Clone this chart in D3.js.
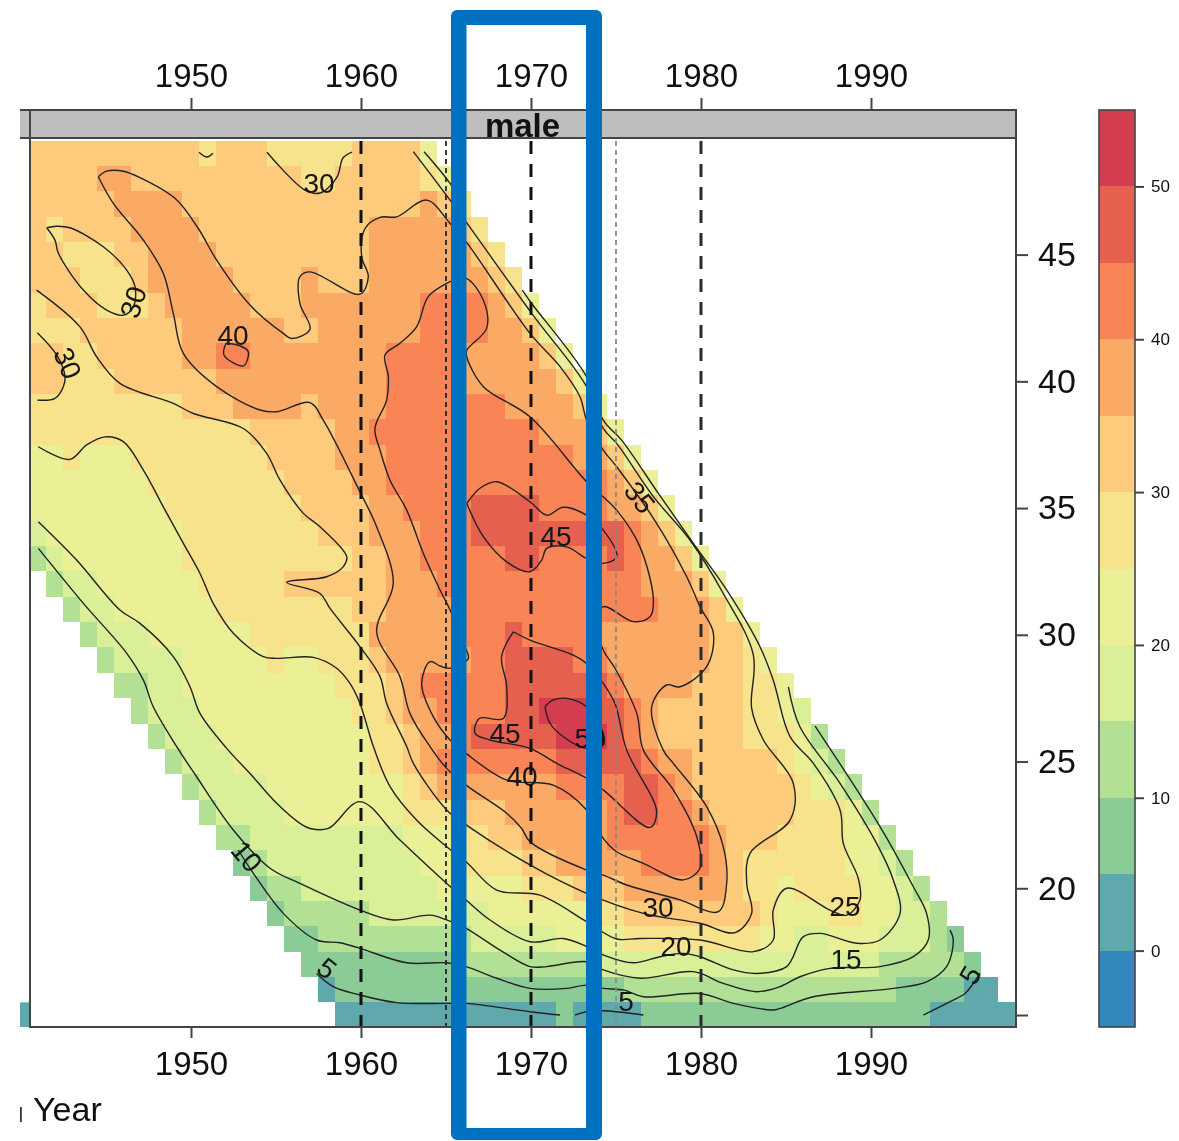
<!DOCTYPE html>
<html><head><meta charset="utf-8">
<script src="https://cdn.jsdelivr.net/npm/d3@7/dist/d3.min.js"></script>
<style>html,body{margin:0;padding:0;background:#fff}svg{display:block;filter:blur(0.55px)}text{font-family:"Liberation Sans",Arial,sans-serif}</style>
</head><body><svg id="c" width="1179" height="1141"></svg>
<script>
// ---------- colour levels ----------
const levelBreaks=[-5,0,5,10,15,20,25,30,35,40,45,50,55];
const levelColors=["#3288BD","#5FA8AC","#8ACB96","#B2E095","#D9EF98","#EBEF96","#F6E38C","#FDCB7B","#FBAA66","#F98456","#E5604F","#D43D4F"];
const colorTicks=[0,10,20,30,40,50];
const yearTicks=[1950,1960,1970,1980,1990];
const ageTicks=[15,20,25,30,35,40,45];
const dashedYears=[1960,1970,1980];
const dottedYears=[1965,1975];
// ---------- cell levels: for each age, [level index, last birth year of the run] ----------
const cellAges=[49,48,47,46,45,44,43,42,41,40,39,38,37,36,35,34,33,32,31,30,29,28,27,26,25,24,23,22,21,20,19,18,17,16,15];
const cellRuns=[
[[7,1950],[6,1951],[7,1954],[6,1959],[7,1963],[5,1964]],
[[7,1944],[8,1946],[7,1956],[6,1958],[7,1963],[6,1964],[5,1965]],
[[7,1945],[8,1949],[7,1963],[8,1964],[7,1965],[6,1966]],
[[7,1941],[6,1942],[7,1946],[8,1950],[7,1960],[8,1965],[7,1966],[6,1967]],
[[7,1942],[6,1945],[7,1947],[8,1951],[7,1960],[8,1966],[7,1967],[6,1968]],
[[7,1943],[6,1946],[7,1947],[8,1952],[7,1956],[8,1957],[7,1960],[8,1967],[7,1968],[6,1969]],
[[6,1941],[7,1944],[6,1947],[7,1948],[8,1953],[7,1956],[8,1963],[9,1967],[8,1968],[7,1969],[5,1970]],
[[6,1943],[7,1949],[8,1955],[7,1957],[8,1963],[9,1967],[8,1969],[7,1970],[5,1971]],
[[7,1942],[6,1944],[7,1949],[8,1951],[9,1953],[8,1961],[9,1965],[8,1970],[7,1971],[5,1972]],
[[7,1942],[6,1945],[7,1951],[8,1961],[9,1965],[8,1971],[7,1972],[5,1973]],
[[6,1949],[7,1952],[8,1956],[7,1957],[8,1961],[9,1968],[8,1972],[7,1973],[5,1974]],
[[6,1953],[7,1958],[8,1960],[9,1970],[8,1973],[7,1974],[5,1975]],
[[5,1942],[6,1943],[5,1946],[6,1954],[7,1958],[8,1961],[9,1972],[8,1974],[7,1975],[5,1976]],
[[5,1947],[6,1955],[7,1959],[8,1961],[9,1974],[8,1975],[7,1976],[5,1977]],
[[5,1948],[6,1956],[7,1960],[8,1962],[9,1966],[10,1970],[9,1974],[8,1976],[7,1977],[5,1978]],
[[4,1941],[5,1949],[6,1957],[7,1960],[8,1963],[9,1966],[10,1975],[9,1976],[8,1977],[7,1978],[5,1979]],
[[3,1941],[4,1942],[5,1949],[6,1959],[7,1961],[8,1963],[9,1968],[10,1970],[9,1974],[10,1975],[9,1976],[8,1978],[7,1979],[5,1980]],
[[3,1942],[4,1944],[5,1950],[6,1955],[7,1961],[8,1964],[9,1976],[8,1979],[7,1980],[5,1981]],
[[3,1943],[4,1945],[5,1951],[6,1959],[7,1961],[8,1965],[9,1977],[8,1980],[7,1981],[5,1982]],
[[3,1944],[4,1947],[5,1953],[6,1960],[8,1965],[9,1968],[10,1969],[9,1973],[8,1980],[7,1982],[5,1983]],
[[3,1945],[4,1949],[5,1954],[6,1955],[5,1957],[6,1960],[7,1961],[8,1966],[9,1968],[10,1972],[9,1974],[8,1980],[7,1982],[6,1983],[5,1984]],
[[3,1947],[4,1949],[5,1958],[6,1961],[7,1962],[8,1963],[9,1968],[10,1974],[9,1975],[8,1979],[7,1982],[6,1984],[5,1985]],
[[3,1947],[4,1950],[5,1959],[6,1961],[7,1962],[8,1964],[9,1968],[10,1970],[11,1973],[10,1975],[9,1976],[8,1977],[7,1982],[6,1984],[5,1985],[4,1986]],
[[3,1948],[4,1951],[5,1960],[6,1962],[7,1963],[8,1965],[9,1966],[10,1971],[11,1974],[10,1975],[9,1976],[8,1977],[7,1982],[6,1985],[5,1986],[3,1987]],
[[3,1949],[4,1952],[5,1960],[6,1962],[7,1963],[8,1964],[9,1971],[10,1976],[9,1977],[8,1979],[7,1984],[6,1985],[5,1986],[4,1987],[3,1988]],
[[3,1950],[4,1954],[5,1962],[6,1963],[7,1964],[8,1971],[9,1975],[10,1977],[9,1978],[8,1979],[7,1985],[6,1986],[5,1987],[4,1988],[3,1989]],
[[3,1951],[4,1955],[5,1962],[6,1965],[7,1968],[8,1974],[9,1975],[10,1977],[9,1979],[8,1980],[7,1985],[6,1988],[5,1989],[3,1990]],
[[3,1953],[4,1962],[5,1965],[6,1967],[7,1969],[8,1974],[9,1980],[8,1981],[7,1984],[6,1988],[5,1990],[3,1991]],
[[2,1953],[3,1954],[4,1963],[5,1965],[6,1969],[7,1971],[8,1976],[9,1980],[8,1981],[7,1982],[6,1988],[5,1990],[4,1991],[3,1992]],
[[2,1954],[3,1956],[4,1964],[5,1969],[6,1972],[7,1975],[8,1981],[7,1982],[6,1984],[5,1985],[6,1989],[5,1991],[4,1992],[3,1993]],
[[2,1955],[3,1960],[4,1967],[5,1973],[6,1975],[7,1983],[6,1984],[5,1987],[6,1989],[5,1991],[4,1993],[3,1994]],
[[2,1957],[3,1966],[4,1971],[5,1975],[6,1983],[5,1985],[4,1987],[5,1990],[4,1993],[3,1994],[2,1995]],
[[2,1965],[3,1973],[4,1990],[3,1995],[2,1996]],
[[1,1958],[2,1975],[3,1991],[2,1995],[1,1997]],
[[1,1971],[2,1972],[1,1976],[2,1993],[1,1998]]
];
// first birth year present at each age
const firstYears=[1941,1941,1941,1941,1941,1941,1941,1941,1941,1941,1941,1941,1941,1941,1941,1941,1941,1942,1943,1944,1945,1946,1947,1948,1949,1950,1951,1952,1953,1954,1955,1956,1957,1958,1959];
// ---------- contour lines [birth year, age] ----------
const contourTopV=[[1950.47,49.04],[1950.94,48.85],[1951.29,49.0]];
const contourTop30=[[1954.47,49.04],[1956.71,47.54],[1957.59,47.43],[1958.59,48.06],[1958.94,48.81],[1959.47,49.04]];
const contourIsland30=[[1941.51,46.06],[1942.10,46.12],[1942.88,46.06],[1944.84,45.31],[1946.22,44.39],[1946.71,43.73],[1946.61,42.94],[1946.02,42.61],[1945.04,42.81],[1943.67,43.60],[1942.20,45.05],[1942.0,45.57],[1941.51,46.06]];
const contourLeft30=[[1940.96,41.92],[1942.10,41.04],[1942.59,40.18],[1942.49,39.79],[1942.0,39.33],[1940.96,39.26]];
const contourBox40=[[1952.06,41.50],[1952.88,41.40],[1953.37,41.17],[1953.08,40.61],[1951.94,41.04],[1952.06,41.50]];
const contour35=[[1944.55,48.07],[1945.04,48.29],[1946.02,48.29],[1947.0,48.04],[1949.06,47.22],[1950.43,46.03],[1951.51,44.78],[1953.47,43.01],[1955.43,41.89],[1955.92,41.69],[1957.0,42.05],[1956.41,43.07],[1956.41,44.13],[1957.0,44.32],[1959.94,43.44],[1960.43,44.13],[1960.04,44.91],[1960.24,46.03],[1961.12,46.47],[1962.10,46.49],[1963.86,47.15],[1965.24,46.23],[1966.18,45.51],[1969.94,41.89],[1971.71,40.58],[1972.88,39.39],[1973.27,38.47],[1974.25,37.29],[1975.04,36.63],[1977.39,34.40],[1979.16,32.29],[1979.94,31.11],[1980.73,30.06],[1980.33,28.74],[1978.76,27.95],[1977.98,28.02],[1977.10,27.16],[1977.78,25.45],[1978.37,24.93],[1980.33,23.22],[1981.31,21.64],[1981.51,20.19],[1981.02,19.08],[1978.76,19.54],[1975.63,20.13],[1974.25,20.52],[1973.27,20.72],[1969.94,21.84],[1969.45,22.36],[1968.57,22.96],[1966.18,24.07],[1965.04,24.73],[1964.06,25.59],[1962.88,26.90],[1962.29,28.35],[1960.92,30.12],[1961.90,32.03],[1960.92,34.26],[1959.94,35.64],[1957.78,38.47],[1957.0,39.16],[1955.04,38.80],[1954.06,38.87],[1951.51,39.79],[1949.55,41.10],[1948.96,42.68],[1948.37,44.26],[1947.20,45.57],[1945.43,47.02],[1944.55,48.07]];
const contour40=[[1965.24,43.93],[1966.18,44.06],[1967.20,43.20],[1967.39,42.09],[1966.22,41.23],[1966.22,40.97],[1967.20,39.79],[1969.94,38.60],[1973.27,36.04],[1975.04,34.92],[1976.41,33.47],[1977.20,31.37],[1977.0,30.71],[1976.02,30.52],[1974.25,31.11],[1973.86,30.32],[1974.25,29.40],[1974.94,28.68],[1976.22,26.90],[1976.61,25.45],[1978.37,23.88],[1979.75,22.03],[1979.94,20.79],[1978.96,20.33],[1976.61,20.98],[1975.04,21.44],[1974.25,21.97],[1973.27,23.09],[1971.31,24.07],[1968.57,24.27],[1966.18,25.32],[1965.24,25.85],[1964.25,26.77],[1963.57,28.08],[1964.06,28.94],[1964.65,28.77],[1965.24,28.68],[1966.31,29.07],[1966.12,29.53],[1965.24,30.98],[1964.65,31.77],[1963.67,33.21],[1962.69,34.92],[1961.71,36.10],[1961.12,37.29],[1960.82,38.14],[1961.51,39.26],[1961.61,40.18],[1961.41,41.04],[1962.29,41.50],[1963.27,42.15],[1963.96,43.34],[1965.24,43.93]];
const contour45Upper=[[1966.22,35.18],[1967.0,35.78],[1967.98,36.04],[1969.94,35.25],[1970.92,34.72],[1971.90,35.03],[1973.27,34.72],[1974.25,34.13],[1975.04,33.08],[1974.25,32.82],[1973.27,33.01],[1972.10,33.47],[1970.92,33.41],[1970.63,32.95],[1969.94,32.49],[1968.57,32.88],[1967.20,33.87],[1966.22,35.18]];
const contour45Lower=[[1968.96,30.12],[1969.94,29.79],[1972.49,29.20],[1973.27,28.87],[1974.25,28.08],[1974.94,27.29],[1975.63,25.45],[1977.39,23.02],[1977.0,22.40],[1974.25,23.88],[1973.27,24.34],[1971.51,24.93],[1969.94,25.52],[1967.59,25.85],[1966.71,26.11],[1966.96,26.70],[1968.37,26.70],[1968.57,27.95],[1968.27,29.14],[1968.96,30.12]];
const contour50=[[1970.82,27.16],[1971.31,27.43],[1972.10,27.49],[1973.27,27.16],[1974.25,26.11],[1974.25,25.65],[1973.27,25.52],[1971.90,25.98],[1971.12,26.51],[1970.82,27.16]];
const contour30=[[1940.92,43.60],[1943.47,42.15],[1944.45,40.97],[1945.82,39.92],[1948.96,39.13],[1950.14,38.73],[1953.08,38.14],[1954.45,37.16],[1955.24,36.10],[1956.61,34.79],[1957.59,34.26],[1959.16,33.08],[1958.96,32.69],[1957.98,32.29],[1955.63,32.07],[1957.59,31.63],[1958.18,31.04],[1959.94,29.53],[1961.12,28.35],[1961.51,27.29],[1962.69,25.59],[1963.08,24.93],[1965.04,23.09],[1966.18,22.50],[1969.94,20.92],[1973.27,19.80],[1976.61,19.01],[1979.94,18.62],[1982.0,18.25],[1982.98,19.01],[1982.69,20.19],[1982.88,21.38],[1985.24,22.69],[1985.43,24.14],[1983.67,25.85],[1982.98,27.10],[1983.08,29.20],[1981.31,31.63],[1979.35,33.74],[1977.20,35.45],[1975.04,37.55],[1974.25,38.14],[1973.27,39.79],[1970.04,42.68],[1966.18,46.29],[1965.24,47.15],[1963.08,49.06]];
const contourShort=[[1963.71,49.06],[1965.24,47.81],[1965.82,47.15]];
const contour25=[[1941.02,37.42],[1942.88,36.92],[1943.86,37.49],[1944.94,37.81],[1946.02,37.62],[1947.20,36.50],[1948.37,35.05],[1949.55,33.61],[1950.53,32.42],[1951.31,31.24],[1952.49,30.06],[1954.25,29.14],[1955.04,29.07],[1957.20,29.11],[1958.57,28.68],[1959.35,28.08],[1959.94,27.29],[1960.73,25.59],[1961.71,24.01],[1963.27,22.69],[1965.04,21.64],[1966.18,21.05],[1967.98,19.93],[1970.53,19.73],[1973.27,18.68],[1975.04,18.0],[1976.41,18.02],[1979.94,17.96],[1983.08,17.50],[1984.25,17.96],[1984.25,19.14],[1985.04,20.0],[1987.59,19.14],[1988.57,18.94],[1989.35,19.54],[1989.25,20.39],[1988.37,21.77],[1988.18,23.09],[1986.61,24.93],[1985.24,25.98],[1984.25,28.21],[1983.47,29.53],[1981.51,31.77],[1979.55,33.61],[1977.49,35.58],[1975.33,37.68],[1974.25,38.47],[1973.27,40.18],[1970.04,43.07],[1969.49,43.60]];
const contour20=[[1941.02,34.46],[1943.27,32.95],[1945.82,30.98],[1947.0,30.45],[1948.96,29.14],[1949.94,27.95],[1950.53,26.90],[1952.10,25.52],[1953.47,24.53],[1955.04,23.35],[1956.41,22.56],[1957.0,22.36],[1958.08,22.36],[1959.94,23.42],[1962.29,21.90],[1965.04,20.19],[1966.18,19.54],[1967.59,18.75],[1969.94,17.89],[1971.90,18.02],[1973.27,17.70],[1974.25,17.37],[1976.02,17.06],[1977.59,17.30],[1978.96,17.43],[1979.94,17.30],[1981.90,16.78],[1983.27,16.64],[1985.04,16.91],[1986.02,18.09],[1987.0,18.22],[1989.16,17.83],[1990.53,17.96],[1991.71,19.01],[1991.31,20.33],[1990.33,21.77],[1988.18,24.14],[1985.82,26.37],[1985.14,27.95]];
const contour15=[[1941.02,33.41],[1943.67,31.24],[1946.22,29.27],[1947.20,28.21],[1947.78,27.16],[1949.16,25.59],[1950.33,24.40],[1952.49,22.30],[1954.65,20.79],[1956.41,20.19],[1959.94,19.14],[1961.90,18.75],[1964.06,18.94],[1965.04,18.75],[1966.18,18.42],[1968.18,17.56],[1969.94,16.91],[1970.92,16.91],[1973.27,17.10],[1974.25,16.78],[1976.41,16.45],[1979.55,16.71],[1981.31,16.25],[1983.27,15.92],[1984.65,16.12],[1985.82,16.51],[1987.59,16.84],[1990.53,16.91],[1992.49,17.30],[1993.37,17.96],[1993.27,19.01],[1992.49,20.06],[1990.53,22.43],[1986.71,26.40]];
const contour10=[[1952.78,21.51],[1953.67,20.59],[1955.43,19.01],[1957.39,17.96],[1958.76,17.85],[1959.94,17.63],[1962.69,17.06],[1965.04,17.06],[1966.18,16.91],[1967.98,16.45],[1969.94,16.05],[1972.10,16.05],[1973.27,16.18],[1974.25,16.05],[1975.43,15.99],[1976.61,15.72],[1979.94,15.85],[1981.90,15.46],[1984.25,15.20],[1984.65,15.26],[1986.61,15.72],[1991.31,16.05],[1993.27,16.31],[1994.45,16.91],[1994.84,17.96],[1994.65,18.35]];
const contour5a=[[1957.39,16.64],[1958.37,16.12],[1959.94,15.79],[1962.10,15.49],[1965.04,15.46],[1966.18,15.46],[1969.94,15.13],[1971.71,15.0]];
const contour5b=[[1972.59,15.0],[1973.27,15.13],[1974.25,15.17],[1976.61,15.0]];
const contour5c=[[1993.08,15.0],[1994.45,15.46],[1995.53,15.85],[1996.02,16.25],[1996.41,16.64]];
const contourLines=[contourTopV,contourTop30,contourIsland30,contourLeft30,contourBox40,contour35,contour40,contour45Upper,contour45Lower,contour50,contour30,contourShort,contour25,contour20,contour15,contour10,contour5a,contour5b,contour5c];
// contour labels: text, birth year, age, rotation
const labelTexts=["30","30","30","40","45","45","50","40","35","30","20","25","15","5","5","10","5"];
const labelYears=[1957.53,1946.59,1942.76,1952.47,1971.47,1968.47,1973.47,1969.47,1976.41,1977.47,1978.53,1988.47,1988.53,1975.59,1958,1953.29,1995.82];
const labelAges=[47.82,43.13,40.72,41.82,33.9,26.12,25.93,24.43,35.43,19.26,17.72,19.3,17.21,15.55,16.85,21.27,16.58];
const labelAngles=[0,-72,68,0,0,0,0,0,52,0,0,0,0,0,38,50,-60];

// ---------- scales ----------
const x=d3.scaleLinear().domain([1940.53,1998.53]).range([30,1016]);
const y=d3.scaleLinear().domain([14.527,49.6]).range([1027,138]);
const colorScale=d3.scaleThreshold().domain(levelBreaks.slice(1,-1)).range(levelColors);
const legendY=d3.scaleLinear().domain([-5,55]).range([1027,110]);
const svg=d3.select("#c");
const ink="#444";

// cells
const cells=[];
cellAges.forEach((age,i)=>{let start=firstYears[i];
  cellRuns[i].forEach(([lvl,last])=>{for(let yr=start;yr<=last;yr++)cells.push({age,yr,lvl});start=last+1;});});
svg.append("g").attr("shape-rendering","crispEdges").selectAll("rect").data(cells).join("rect")
  .attr("x",d=>x(d.yr-.5)).attr("width",d=>x(d.yr+.5)-x(d.yr-.5))
  .attr("y",d=>y(d.age+.5)).attr("height",d=>y(d.age-.5)-y(d.age+.5))
  .attr("fill",d=>colorScale(levelBreaks[d.lvl]));

// neighbouring panel remnants, left of the frame
svg.append("rect").attr("x",20).attr("width",10).attr("y",y(15.5)).attr("height",y(14.527)-y(15.5)).attr("fill",levelColors[1]);

// contours
const line=d3.line().x(d=>x(d[0])).y(d=>y(d[1])).curve(d3.curveCatmullRom.alpha(.5));
svg.append("g").selectAll("path").data(contourLines).join("path").attr("d",line)
  .attr("fill","none").attr("stroke","#222").attr("stroke-width",1.4);

// contour labels
svg.append("g").selectAll("text").data(labelTexts).join("text").text(d=>d)
  .attr("transform",(d,i)=>`translate(${x(labelYears[i])},${y(labelAges[i])}) rotate(${labelAngles[i]})`)
  .attr("text-anchor","middle").attr("dy","0.36em").attr("font-size",28).attr("fill","#161616");

// reference lines
svg.append("g").selectAll("line").data(dashedYears).join("line")
  .attr("x1",d=>x(d)).attr("x2",d=>x(d)).attr("y1",141).attr("y2",1027)
  .attr("stroke",d=>d===1980?"#2b2b2b":"#111").attr("stroke-width",3).attr("stroke-dasharray","13 10");
svg.append("g").selectAll("line").data(dottedYears).join("line")
  .attr("x1",d=>x(d)).attr("x2",d=>x(d)).attr("y1",141).attr("y2",1027)
  .attr("stroke",d=>d===1965?"#222":"#8a8a8a").attr("stroke-width",1.8).attr("stroke-dasharray","5 4");

// strip
svg.append("rect").attr("x",20).attr("y",110).attr("width",996).attr("height",28).attr("fill","#BEBEBE");
svg.append("line").attr("x1",20).attr("x2",1016).attr("y1",110).attr("y2",110).attr("stroke",ink).attr("stroke-width",2);
svg.append("line").attr("x1",20).attr("x2",1016).attr("y1",138).attr("y2",138).attr("stroke",ink).attr("stroke-width",2);
svg.append("text").text("male").attr("x",522.5).attr("y",137).attr("text-anchor","middle").attr("font-size",33).attr("font-weight","bold").attr("fill","#111");
// frame
svg.append("rect").attr("x",30).attr("y",110).attr("width",986).attr("height",917).attr("fill","none").attr("stroke",ink).attr("stroke-width",2);

// axes
function styleAxis(g,size){g.select(".domain").remove();g.selectAll(".tick line").attr("stroke",ink).attr("stroke-width",2);
  g.selectAll(".tick text").attr("font-size",size).attr("font-family",'"Liberation Sans",Arial,sans-serif').attr("fill","#111");}
svg.append("g").attr("transform","translate(0,110)").call(d3.axisTop(x).tickValues(yearTicks).tickFormat(d3.format("d")).tickSize(12).tickPadding(11)).call(styleAxis,33);
svg.append("g").attr("transform","translate(0,1027)").call(d3.axisBottom(x).tickValues(yearTicks).tickFormat(d3.format("d")).tickSize(11).tickPadding(14)).call(styleAxis,33);
svg.append("g").attr("transform","translate(1016,0)").call(d3.axisRight(y).tickValues(ageTicks.slice(1)).tickFormat(d3.format("d")).tickSize(12).tickPadding(10)).call(styleAxis,34);
svg.append("g").attr("transform","translate(1016,0)").call(d3.axisRight(y).tickValues([15]).tickFormat("").tickSize(12)).call(styleAxis,33);

// x title
svg.append("text").text("Year").attr("x",33).attr("y",1121).attr("font-size",34).attr("fill","#111");
svg.append("rect").attr("x",20).attr("y",1107).attr("width",1.8).attr("height",15).attr("fill","#333");

// colour key
svg.append("g").attr("shape-rendering","crispEdges").selectAll("rect").data(levelColors).join("rect")
  .attr("x",1099).attr("width",36).attr("y",(d,i)=>legendY(levelBreaks[i+1])).attr("height",(d,i)=>legendY(levelBreaks[i])-legendY(levelBreaks[i+1])).attr("fill",d=>d);
svg.append("rect").attr("x",1099).attr("y",110).attr("width",36).attr("height",917).attr("fill","none").attr("stroke",ink).attr("stroke-width",1.6);
svg.append("g").attr("transform","translate(1135,0)").call(d3.axisRight(legendY).tickValues(colorTicks).tickSize(9).tickPadding(7)).call(styleAxis,17);

// blue highlight
const bluePath="M457,10H596a6,6 0 0 1 6,6V1134a6,6 0 0 1 -6,6H457a6,6 0 0 1 -6,-6V16a6,6 0 0 1 6,-6Z M466.5,25V1128H586V25Z";
svg.append("path").attr("d",bluePath).attr("fill","#0070C0").attr("fill-rule","evenodd");
</script></body></html>
